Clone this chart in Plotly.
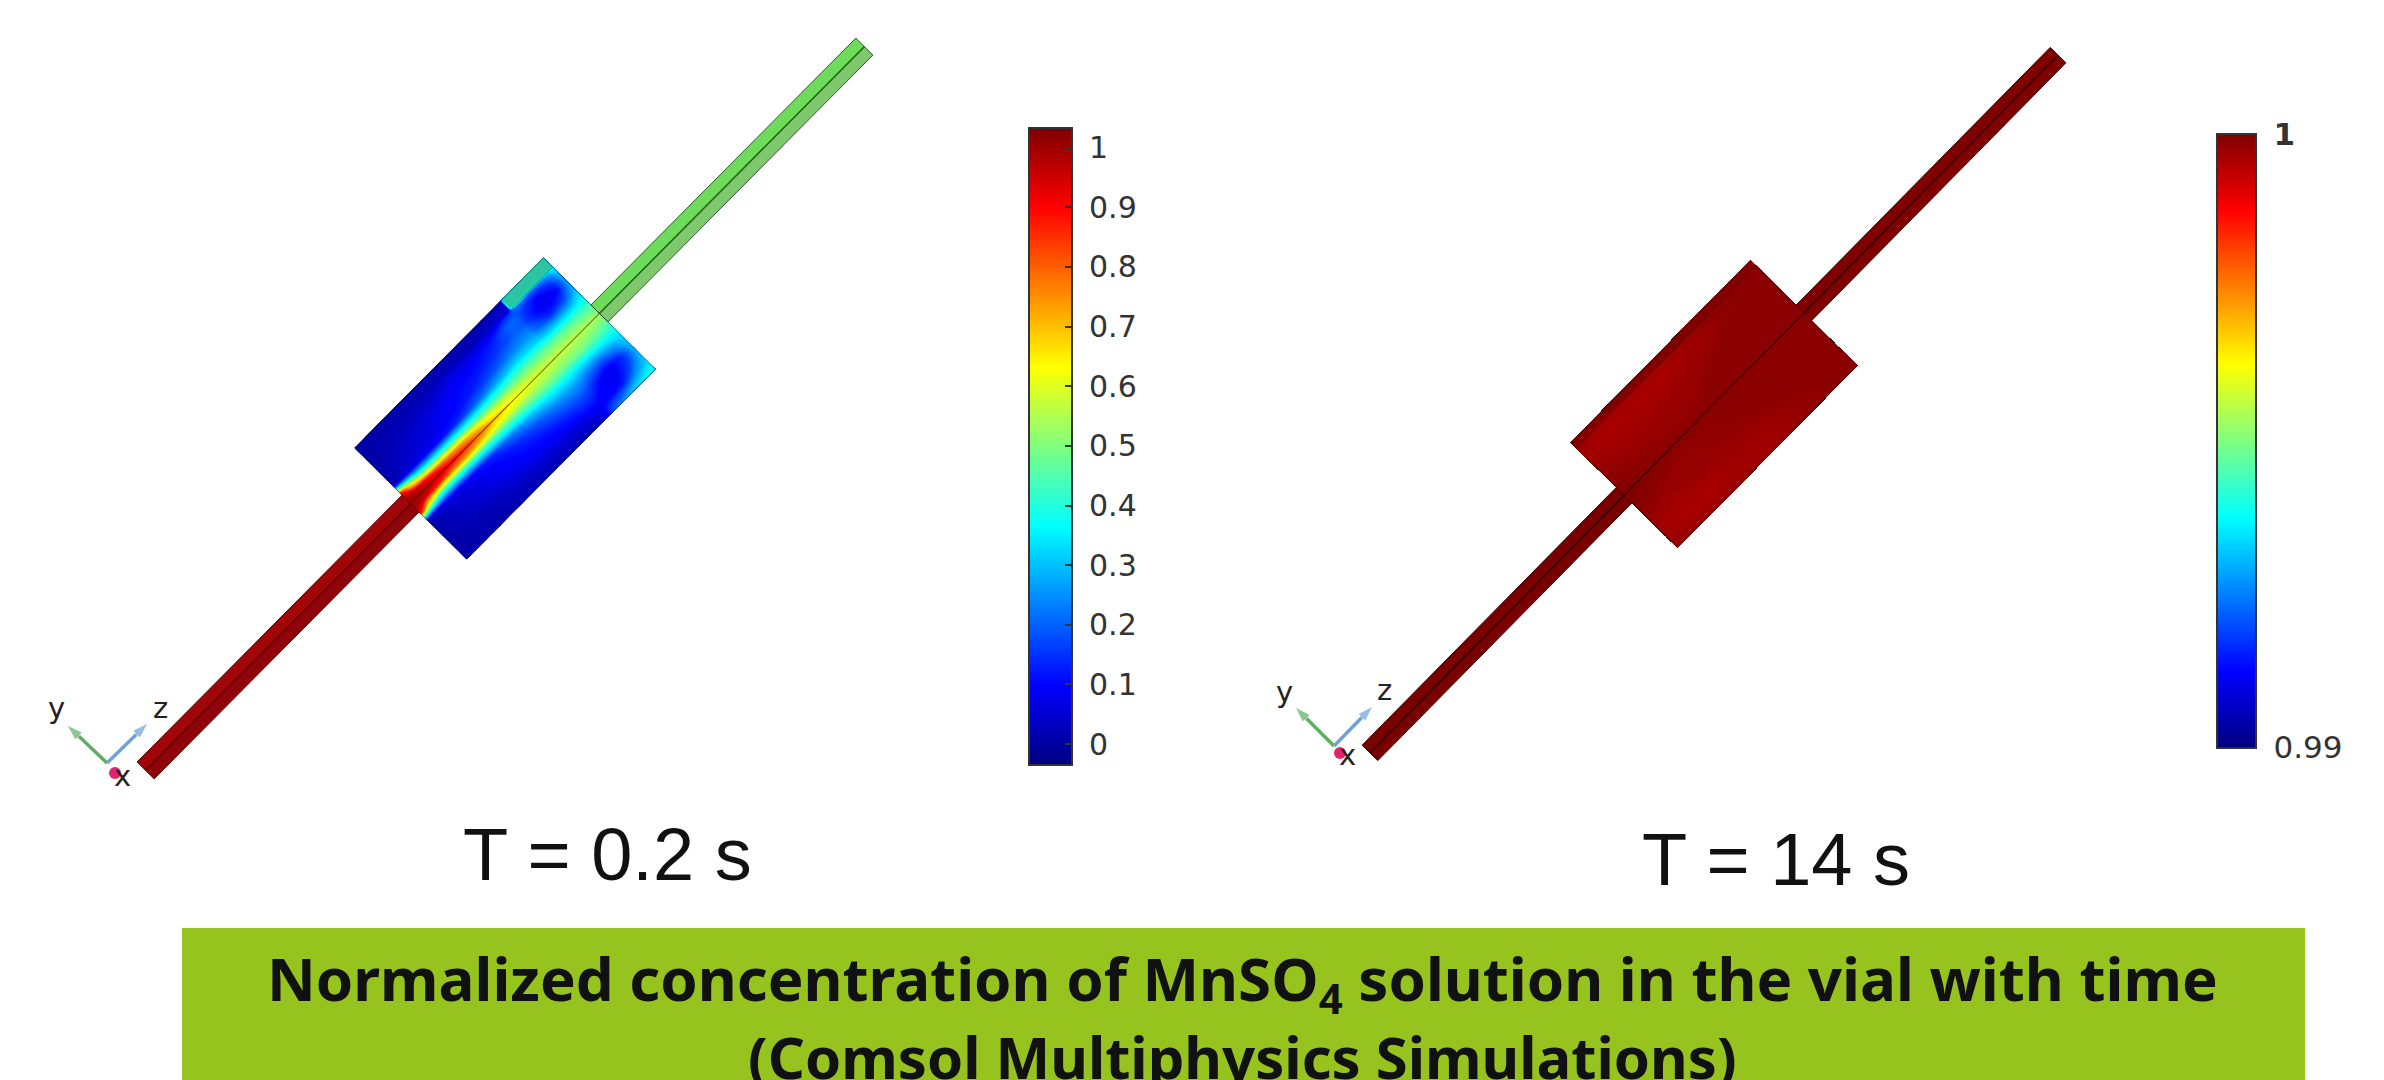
import numpy as np
import plotly.graph_objects as go

# ---------- data: normalized concentration ----------
U0 = [-134,-122,-105,-80,-50,-20,10,40,60,72,76,100,120,134]
V0 = [-79,-67,-64,-56,-46,-34,-24,-14,-6,0,6,14,24,34,46,56,66,79]
C0 = [
 [.01,.01,.01,.01,.01,.01,.01,.01,.02,.02,.42,.42,.42,.42],
 [.01,.01,.01,.02,.02,.03,.03,.04,.05,.06,.42,.42,.42,.42],
 [.01,.01,.02,.02,.03,.05,.05,.07,.12,.16,.20,.20,.25,.35],
 [.01,.01,.02,.03,.05,.08,.09,.13,.20,.20,.18,.10,.15,.30],
 [.01,.02,.03,.05,.08,.10,.12,.16,.20,.19,.17,.07,.10,.27],
 [.01,.02,.04,.06,.09,.12,.17,.23,.25,.25,.22,.14,.20,.30],
 [.02,.05,.07,.09,.13,.20,.27,.33,.33,.32,.31,.30,.32,.36],
 [.90,.62,.45,.42,.42,.42,.44,.46,.46,.46,.46,.45,.44,.43],
 [1.0,.97,.88,.78,.72,.62,.58,.55,.54,.53,.53,.52,.50,.48],
 [1.0,.99,.97,.92,.84,.72,.64,.60,.58,.57,.57,.56,.55,.54],
 [1.0,.97,.88,.78,.72,.63,.59,.56,.55,.54,.54,.53,.51,.50],
 [.90,.62,.45,.42,.42,.43,.45,.48,.48,.48,.48,.48,.46,.44],
 [.02,.05,.07,.09,.13,.21,.28,.34,.35,.35,.34,.34,.36,.36],
 [.01,.02,.04,.06,.09,.13,.18,.24,.26,.25,.24,.20,.26,.32],
 [.01,.02,.03,.05,.08,.10,.12,.16,.18,.17,.15,.08,.15,.30],
 [.01,.01,.02,.03,.05,.08,.09,.11,.13,.12,.10,.08,.17,.30],
 [.01,.01,.02,.02,.03,.04,.05,.06,.08,.08,.09,.12,.25,.32],
 [.01,.01,.01,.01,.02,.02,.02,.02,.04,.15,.20,.30,.36,.38],
]
U1 = [-128,-100,-60,-20,20,60,100,128]
V1 = [-75,-69,-67,-55,-35,-15,0,15,35,55,70,75]
C1 = [
 [1.0,1.0,1.0,1.0,1.0,1.0,1.0,1.0],
 [1.0,1.0,1.0,1.0,1.0,1.0,1.0,1.0],
 [.9998,.9997,.9997,.9997,.9998,.9999,.9999,.9999],
 [.9997,.9996,.9996,.9996,.9997,.9998,.9999,.9999],
 [.9998,.9997,.9997,.99975,.9998,.9999,.9999,.9999],
 [.9999,.99985,.9998,.9998,.9999,.9999,.9999,.9999],
 [1.0,.99995,.9999,.9999,.9999,.9999,.9999,.9999],
 [.99995,.9999,.9998,.99985,.9999,.9999,.9999,.9999],
 [.9998,.9997,.9998,.9998,.99985,.9999,.9999,.9999],
 [.9997,.9996,.9996,.9997,.9997,.99985,.9999,.9999],
 [.9998,.9997,.9997,.9997,.9997,.9998,.9999,.9999],
 [.9998,.9998,.9998,.9998,.9998,.9999,.9999,.9999],
]
TICKS0 = [0,.1,.2,.3,.4,.5,.6,.7,.8,.9,1]
TICKTEXT0 = ["\u00a00","\u00a00.1","\u00a00.2","\u00a00.3","\u00a00.4","\u00a00.5","\u00a00.6","\u00a00.7","\u00a00.8","\u00a00.9","\u00a01"]
TICKS1 = [.99,1]
TICKTEXT1 = ["\u00a00.99","\u00a0<b>1</b>"]
LABELS = ["T = 0.2 s","T = 14 s"]
TITLE1 = "Normalized concentration of MnSO<sub>4</sub> solution in the vial with time"
TITLE2 = "(Comsol Multiphysics Simulations)"

JET = [[0,"#00007F"],[.125,"#0000FF"],[.375,"#00FFFF"],[.625,"#FFFF00"],[.875,"#FF0000"],[1,"#7F0000"]]
W,H = 2384,1080
RANGE0 = (-0.033,1.032)
RANGE1 = (0.99,1.0)

fig = go.Figure()

def frame(center, a):
    c,s = np.cos(np.radians(a)), np.sin(np.radians(a))
    eu = np.array([c,-s]); ev = np.array([s,c])
    return np.array(center,float), eu, ev

def pt(f,u,v):
    o,eu,ev = f
    return o+u*eu+v*ev

def poly(f,pts,fill=None,line="rgba(0,0,0,0)",w=1):
    xy = np.array([pt(f,u,v) for u,v in pts])
    fig.add_trace(go.Scatter(x=xy[:,0],y=xy[:,1],mode="lines",
        fill="toself" if fill else "none",fillcolor=fill,
        line=dict(color=line,width=w),hoverinfo="skip",showlegend=False))

def tube(f,umin,umax,hw,upper,lower,edge,mid):
    poly(f,[(umin,-hw),(umax,-hw),(umax,0),(umin,0),(umin,-hw)],fill=upper,line=edge)
    poly(f,[(umin,0),(umax,0),(umax,hw),(umin,hw),(umin,0)],fill=lower,line=edge)
    poly(f,[(umin,0),(umax,0)],line=mid,w=1.5)

def vial(f,U,V,C,axis,rng,cstep,carpet):
    uu,vv = np.meshgrid(U,V)
    o,eu,ev = f
    x = o[0]+uu*eu[0]+vv*ev[0]
    y = o[1]+uu*eu[1]+vv*ev[1]
    hidden = dict(showgrid=False,showticklabels="none",startline=False,endline=False,
                  minorgridcount=0,showline=False)
    fig.add_trace(go.Carpet(a=uu.ravel(),b=vv.ravel(),x=x.ravel(),y=y.ravel(),carpet=carpet,
                            aaxis=hidden,baxis=hidden))
    fig.add_trace(go.Contourcarpet(a=uu.ravel(),b=vv.ravel(),z=np.array(C).ravel(),carpet=carpet,
        coloraxis=axis,autocontour=False,
        contours=dict(start=rng[0],end=rng[1],size=cstep,coloring="fill",showlines=False),
        line=dict(width=0)))

# left device, T = 0.2 s
fL = frame((505,408.5),45.2)
tube(fL,-510,-134,12,"#A00508","#8E0408","#5A0000","#6A0000")
tube(fL,134,510,12,"#6FDB5A","#80C86E","#2C5A2C","#1E6A14")
vial(fL,U0,V0,C0,"coloraxis",RANGE0,0.004,"c0")
poly(fL,[(75,-79),(134,-79),(134,-67),(75,-67),(75,-79)],fill="rgba(30,110,100,0.4)")
poly(fL,[(-134,-79),(134,-79),(134,79),(-134,79),(-134,-79)],line="rgba(15,30,50,0.55)")
poly(fL,[(76,-66),(134,-66)],line="rgba(0,40,50,0.7)")
poly(fL,[(-134,0),(134,0)],line="rgba(50,40,0,0.6)",w=1.2)

# right device, T = 14 s
fR = frame((1714,404),45.4)
tube(fR,-490,-128,11,"#7A0000","#7A0000","#3A0000","#300000")
tube(fR,128,490,11,"#800000","#800000","#3A0000","#300000")
vial(fR,U1,V1,C1,"coloraxis2",RANGE1,0.00002,"c1")
poly(fR,[(-128,-75),(128,-75),(128,75),(-128,75),(-128,-75)],line="rgba(40,0,0,0.6)")
poly(fR,[(-128,-67),(128,-67)],line="rgba(60,0,0,0.6)")
poly(fR,[(-128,0),(128,0)],line="rgba(30,0,0,0.75)",w=1.2)

def cbar(x,ytop,w,h,vals,text,size):
    return dict(x=x/W,xanchor="left",y=1-ytop/H,yanchor="top",thickness=w,thicknessmode="pixels",
                len=h,lenmode="pixels",xpad=0,ypad=0,outlinecolor="#333333",outlinewidth=2,
                tickmode="array",tickvals=vals,ticktext=text,ticks="inside",ticklen=8,
                tickcolor="#333333",tickwidth=2,
                tickfont=dict(family="DejaVu Sans",size=size,color="#333333"))

shapes = [dict(type="rect",xref="x",yref="y",x0=182,x1=2305,y0=928,y1=1080,
               fillcolor="#97C31F",line_width=0,layer="below")]

ann = []
def text(x,y,t,size,family="DejaVu Sans",color="#222222",bold=False):
    ann.append(dict(x=x,y=y,xref="x",yref="y",text=f"<b>{t}</b>" if bold else t,showarrow=False,
                    xanchor="center",yanchor="middle",font=dict(family=family,size=size,color=color)))
text(607,854,LABELS[0],74,"Liberation Sans","#111111")
text(1776,859,LABELS[1],74,"Liberation Sans","#111111")
text(1242,1016,TITLE1+'<br><span style="font-size:58px">'+TITLE2+"</span>",60,"Noto Sans","#111111",True)

def triad(o,yend,zend,xdot,ly,lz,lx):
    for end,col in ((yend,"#5FAE62"),(zend,"#6FA2D6")):
        fig.add_trace(go.Scatter(x=[o[0],end[0]],y=[o[1],end[1]],mode="lines+markers",
            line=dict(color=col,width=3.5),
            marker=dict(symbol="arrow",angleref="previous",size=[0,17],color=col),
            hoverinfo="skip",showlegend=False))
    fig.add_trace(go.Scatter(x=[xdot[0]],y=[xdot[1]],mode="markers",marker=dict(size=12,color="#E0246E"),
                             hoverinfo="skip",showlegend=False))
    text(ly[0],ly[1]-5,"y",29)
    text(lz[0],lz[1]-5,"z",29)
    text(lx[0],lx[1]-4,"x",29)
triad((107,763),(67,725),(148,723),(115,773),(56,713),(160,713),(122,780))
triad((1334,746),(1295,707),(1373,706),(1340,753),(1284,697),(1384,695),(1347,759))

fig.update_layout(
    width=W,height=H,margin=dict(l=0,r=0,t=0,b=0),paper_bgcolor="white",plot_bgcolor="white",
    showlegend=False,shapes=shapes,annotations=ann,
    xaxis=dict(range=[0,W],visible=False,fixedrange=True),
    yaxis=dict(range=[H,0],visible=False,fixedrange=True),
    coloraxis=dict(colorscale=JET,cmin=RANGE0[0],cmax=RANGE0[1],
                   colorbar=cbar(1029,128,43,637,TICKS0,TICKTEXT0,30)),
    coloraxis2=dict(colorscale=JET,cmin=RANGE1[0],cmax=RANGE1[1],
                    colorbar=cbar(2217,134,39,614,TICKS1,TICKTEXT1,31)),
)
fig.write_html("out.html",config={"displayModeBar":False},post_script="document.body.style.margin='0';")
